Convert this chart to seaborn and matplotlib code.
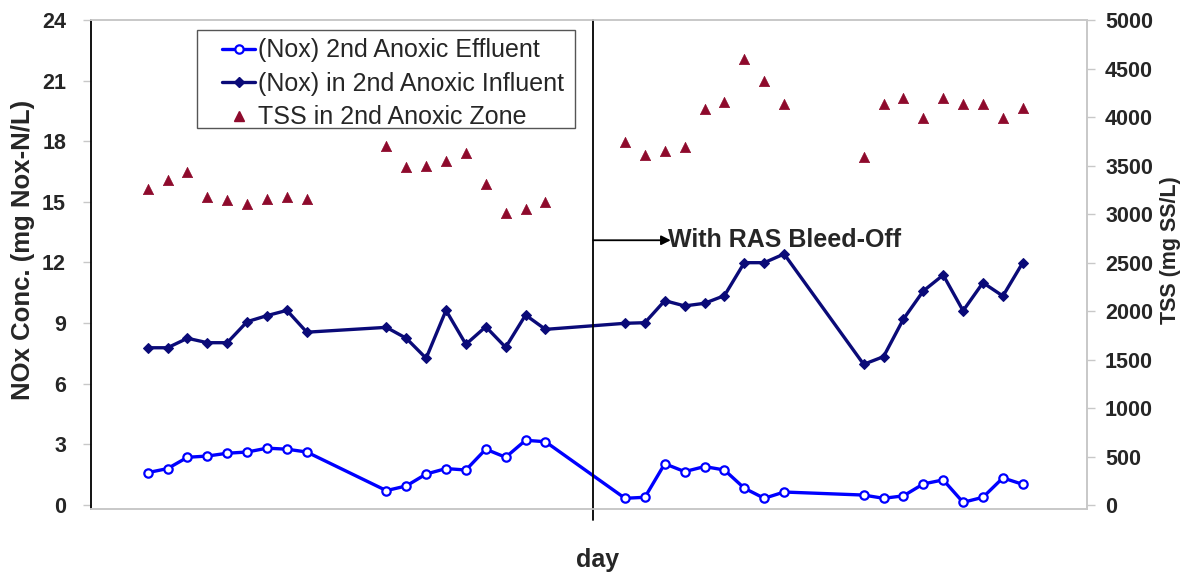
import matplotlib
matplotlib.use("Agg")
import matplotlib.pyplot as plt
import seaborn as sns
from matplotlib.lines import Line2D
from matplotlib.patches import Rectangle

# Sampling days (gaps are days without measurements)
days = [0, 1, 2, 3, 4, 5, 6, 7, 8,
        12, 13, 14, 15, 16, 17, 18, 19, 20,
        24, 25, 26, 27, 28, 29, 30, 31, 32,
        36, 37, 38, 39, 40, 41, 42, 43, 44]

# NOx in the 2nd anoxic effluent (mg NOx-N/L)
nox_effluent = [1.60, 1.80, 2.36, 2.42, 2.56, 2.62, 2.81, 2.76, 2.62,
                0.71, 0.94, 1.53, 1.80, 1.73, 2.76, 2.36, 3.20, 3.13,
                0.33, 0.38, 2.04, 1.65, 1.90, 1.73, 0.83, 0.33, 0.64,
                0.49, 0.33, 0.45, 1.04, 1.24, 0.13, 0.38, 1.34, 1.02]

# NOx in the 2nd anoxic influent (mg NOx-N/L)
nox_influent = [7.78, 7.78, 8.25, 8.03, 8.03, 9.07, 9.37, 9.63, 8.55,
                8.79, 8.25, 7.26, 9.63, 7.95, 8.82, 7.80, 9.40, 8.69,
                8.99, 9.02, 10.11, 9.85, 9.98, 10.36, 11.99, 11.99, 12.42,
                6.96, 7.34, 9.20, 10.59, 11.38, 9.61, 11.00, 10.34, 11.99]

# TSS in the 2nd anoxic zone (mg SS/L)
tss = [3255, 3350, 3430, 3178, 3144, 3100, 3155, 3178, 3151,
       3701, 3488, 3495, 3546, 3626, 3309, 3007, 3055, 3124,
       3739, 3608, 3653, 3691, 4079, 4158, 4598, 4371, 4134,
       3591, 4137, 4193, 3993, 4193, 4137, 4131, 3993, 4096]

bleed_off_day = 22.4
nox_ticks = [0, 3, 6, 9, 12, 15, 18, 21, 24]
tss_ticks = [0, 500, 1000, 1500, 2000, 2500, 3000, 3500, 4000, 4500, 5000]

labels = ["(Nox) 2nd Anoxic Effluent",
          "(Nox) in 2nd Anoxic Influent",
          "TSS in 2nd Anoxic Zone"]

sns.set_style("white")
plt.rcParams["font.family"] = ["Liberation Sans", "DejaVu Sans"]

c_eff = "#0000FF"
c_inf = "#0A0A78"
c_tss = "#8E0A2C"

W, H = 1188, 574
fig = plt.figure(figsize=(W / 100, H / 100), dpi=100)
ax = fig.add_axes([91 / W, 1 - 509 / H, 996 / W, 489 / H])
ax2 = ax.twinx()

sns.lineplot(x=days, y=nox_influent, ax=ax, color=c_inf, linewidth=2.4,
             marker="D", markersize=5, markerfacecolor=c_inf,
             markeredgecolor=c_inf, zorder=3)
sns.lineplot(x=days, y=nox_effluent, ax=ax, color=c_eff, linewidth=2.4,
             marker="o", markersize=6, markerfacecolor="white",
             markeredgecolor=c_eff, markeredgewidth=1.6, zorder=4)
sns.scatterplot(x=days, y=tss, ax=ax2, color=c_tss, marker="^", s=55,
                edgecolor=c_tss, linewidth=0.5, zorder=3)

ax.set_xlim(-2.85, 47.23)
ax.set_ylim(-0.2, 24)
ax2.set_ylim(-41.2, 5000)
ax.set_xticks([])
ax.set_yticks(nox_ticks)
ax2.set_yticks(tss_ticks)
ax.set_yticklabels([str(t) for t in nox_ticks], fontsize=15.5, fontweight="bold")
ax2.set_yticklabels([str(t) for t in tss_ticks], fontsize=15.5, fontweight="bold")
ax.tick_params(axis="y", length=6, width=1, color="#c8c8c8", pad=12, left=True)
ax2.tick_params(axis="y", length=6, width=1, color="#c8c8c8", pad=7, right=True)

for a in (ax, ax2):
    for s in ("top", "bottom", "right"):
        a.spines[s].set_color("#c8c8c8")
        a.spines[s].set_linewidth(1.2)
    a.spines["left"].set_color("black")
    a.spines["left"].set_linewidth(1.3)
ax2.spines["left"].set_visible(False)

ax.set_ylabel("NOx Conc. (mg Nox-N/L)", fontsize=18.5, fontweight="bold")
ax.yaxis.set_label_coords(-0.0565, 0.530)
ax2.set_ylabel("TSS (mg SS/L)", fontsize=15.5, fontweight="bold", rotation=90)
ax2.yaxis.set_label_coords(1.0733, 0.530)
fig.text(598 / W, 1 - 560 / H, "day", fontsize=18, fontweight="bold",
         ha="center", va="center")

# Start of RAS bleed-off
ax.axvline(bleed_off_day, ymin=-0.022, ymax=1, color="black", lw=1.3,
           clip_on=False, zorder=5)
ax.annotate("", xy=(26.3, 13.1), xytext=(bleed_off_day, 13.1),
            arrowprops=dict(arrowstyle="-|>", color="black", lw=1.3,
                            shrinkA=0, shrinkB=0, mutation_scale=14))
ax.text(26.15, 13.1, "With RAS Bleed-Off", fontsize=18, fontweight="bold",
        va="center", ha="left", zorder=6)

# Legend box and entries
fig.patches.append(Rectangle((197 / W, 1 - 128 / H), 378 / W, 98 / H,
                             transform=fig.transFigure, facecolor="white",
                             edgecolor="#555555", linewidth=1.0, zorder=10))
handles = [
    Line2D([], [], color=c_eff, lw=2.4, marker="o", markersize=6,
           markerfacecolor="white", markeredgecolor=c_eff, markeredgewidth=1.6),
    Line2D([], [], color=c_inf, lw=2.4, marker="D", markersize=5,
           markerfacecolor=c_inf, markeredgecolor=c_inf),
    Line2D([], [], color=c_tss, lw=0, marker="^", markersize=7,
           markerfacecolor=c_tss, markeredgecolor=c_tss),
]
leg = fig.legend(handles, labels, loc="upper left",
                 bbox_to_anchor=(222 / W, 1 - 38.5 / H),
                 bbox_transform=fig.transFigure, borderaxespad=0,
                 fontsize=18, frameon=False,
                 handlelength=1.32, handletextpad=0.12, labelspacing=0.38,
                 borderpad=0)
leg.set_zorder(11)

fig.savefig("out.png", dpi=100)
